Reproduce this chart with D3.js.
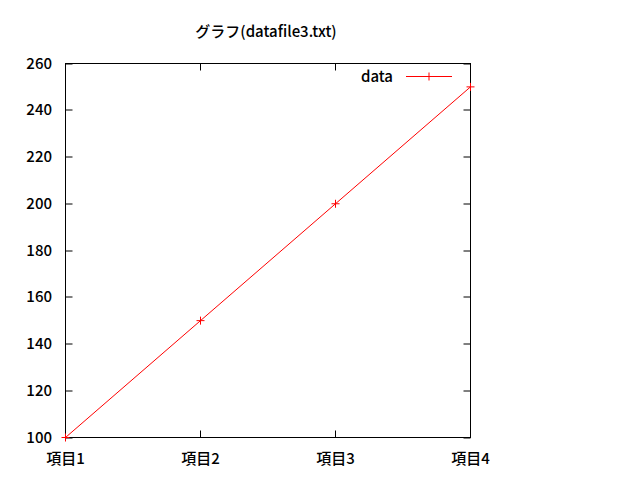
<!DOCTYPE html>
<html><head><meta charset="utf-8">
<script src="https://cdn.jsdelivr.net/npm/d3@7"></script>
<style>body{margin:0;background:#fff}svg{display:block}text{font-family:"Noto Sans CJK JP","Noto Sans",sans-serif;font-size:15px;font-weight:500;fill:#000}</style>
</head><body><svg id="c" width="640" height="480"></svg>
<script>
const categories = ["項目1","項目2","項目3","項目4"];
const values = [100,150,200,250];
const yTicks = [100,120,140,160,180,200,220,240,260];
const title = "グラフ(datafile3.txt)";
const seriesName = "data";

const svg = d3.select("#c");
const L=65.5,R=470.5,T=63.5,B=437.5;
const x = d3.scalePoint().domain(categories).range([L,R]);
const y = d3.scaleLinear().domain([100,260]).range([B,T]);
svg.append("rect").attr("width",640).attr("height",480).attr("fill","#fff");

// ticks
const tk=7;
const g=svg.append("g").attr("stroke","#000").attr("stroke-width",1);
yTicks.forEach(v=>{
  g.append("line").attr("x1",L).attr("x2",L+tk).attr("y1",Math.round(y(v))).attr("y2",Math.round(y(v)));
  g.append("line").attr("x1",R).attr("x2",R-tk).attr("y1",Math.round(y(v))).attr("y2",Math.round(y(v)));
});
categories.forEach(c=>{
  g.append("line").attr("x1",x(c)).attr("x2",x(c)).attr("y1",B).attr("y2",B-tk);
  g.append("line").attr("x1",x(c)).attr("x2",x(c)).attr("y1",T).attr("y2",T+tk);
});
svg.append("rect").attr("x",L).attr("y",T).attr("width",R-L).attr("height",B-T).attr("fill","none").attr("stroke","#000");

// labels
svg.selectAll(".yl").data(yTicks).enter().append("text").attr("x",52).attr("y",d=>y(d)+5).attr("text-anchor","end").text(d=>d);
svg.selectAll(".xl").data(categories).enter().append("text").attr("x",d=>x(d)).attr("y",464).attr("text-anchor","middle").text(d=>d);
svg.append("text").attr("x",266).attr("y",37).attr("text-anchor","middle").text(title);

// line
const line=d3.line().x((d,i)=>x(categories[i])).y(d=>y(d));
svg.append("path").datum(values).attr("d",line).attr("fill","none").attr("stroke","#f00").attr("stroke-width",1);
const ms=4;
const mk=svg.append("g").attr("stroke","#f00").attr("stroke-width",1);
values.forEach((v,i)=>{
  const px=x(categories[i]),py=y(v);
  mk.append("line").attr("x1",px-ms).attr("x2",px+ms).attr("y1",py).attr("y2",py);
  mk.append("line").attr("x1",px).attr("x2",px).attr("y1",py-ms).attr("y2",py+ms);
});
// legend
svg.append("text").attr("x",393).attr("y",82).attr("text-anchor","end").text(seriesName);
mk.append("line").attr("x1",406).attr("x2",452).attr("y1",76.5).attr("y2",76.5);
mk.append("line").attr("x1",429).attr("x2",429).attr("y1",76.5-ms).attr("y2",76.5+ms);
</script></body></html>
